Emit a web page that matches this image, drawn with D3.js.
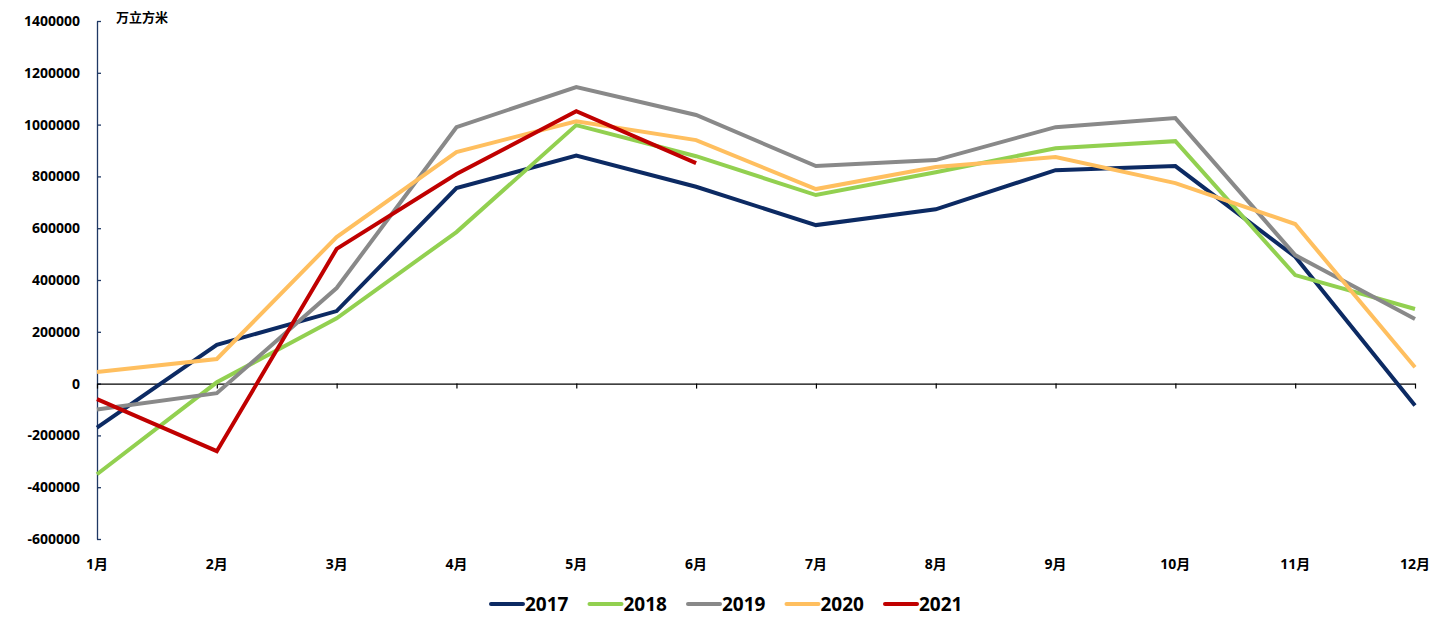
<!DOCTYPE html>
<html>
<head>
<meta charset="utf-8">
<script src="https://cdn.jsdelivr.net/npm/d3@7"></script>
<style>
	body { margin: 0; background: #fff; }
	text { font-family: "Open Sans", "Noto Sans CJK SC", sans-serif; font-weight: bold; fill: #000; }
</style>
</head>
<body>
<div id="chart"></div>
<script>
var months = ['1月','2月','3月','4月','5月','6月','7月','8月','9月','10月','11月','12月'];
var years = ['2017','2018','2019','2020','2021'];
var colors = ['#0c2a63','#92d050','#898989','#ffbf5f','#c00000'];
var yTicks = [-600000,-400000,-200000,0,200000,400000,600000,800000,1000000,1200000,1400000];

var v2017 = [-170000,150000,280000,755000,880000,760000,612000,673000,824000,840000,490000,-85000];
var v2018 = [-350000,5000,252000,585000,998000,878000,728000,816000,909000,936000,419000,288000];
var v2019 = [-100000,-37000,369000,990000,1145000,1037000,840000,863000,990000,1025000,496000,249000];
var v2020 = [45000,95000,566000,894000,1013000,940000,751000,836000,875000,774000,616000,63000];
var v2021 = [-60000,-261000,520000,809000,1052000,851000];
var series = [v2017, v2018, v2019, v2020, v2021];

var width = 1451, height = 629;
var plotLeft = 97, plotRight = 1415, plotTop = 21, plotBottom = 539;

var svg = d3.select('#chart').append('svg')
	.attr('width', width)
	.attr('height', height);

var x = d3.scalePoint().domain(months).range([plotLeft, plotRight]);
var y = d3.scaleLinear().domain([-600000, 1400000]).range([plotBottom, plotTop]);

// y axis
var yAxis = svg.append('g')
	.attr('transform', 'translate(' + plotLeft + ',0)')
	.call(d3.axisRight(y).tickValues(yTicks).tickSize(4).tickSizeOuter(0).tickFormat(''));
yAxis.selectAll('line, path').attr('stroke', '#1f3864').attr('stroke-width', 1.3);

svg.selectAll('text.ylab')
	.data(yTicks).enter()
	.append('text')
	.attr('class', 'ylab')
	.attr('x', 80)
	.attr('y', function(d){ return y(d) + 5; })
	.attr('text-anchor', 'end')
	.attr('font-size', 14)
	.text(function(d){ return d; });

// x axis at zero
var xAxis = svg.append('g')
	.attr('transform', 'translate(0,' + y(0) + ')')
	.call(d3.axisBottom(x).tickSize(5).tickSizeOuter(0).tickFormat(''));
xAxis.selectAll('line, path').attr('stroke', '#000').attr('stroke-width', 1.2);

svg.selectAll('text.xlab')
	.data(months).enter()
	.append('text')
	.attr('class', 'xlab')
	.attr('x', function(d){ return x(d); })
	.attr('y', 569)
	.attr('text-anchor', 'middle')
	.attr('font-size', 14)
	.text(function(d){ return d; });

svg.append('text')
	.attr('x', 116)
	.attr('y', 22)
	.attr('font-size', 13)
	.text('万立方米');

// lines
var line = d3.line()
	.x(function(d, i){ return x(months[i]); })
	.y(function(d){ return y(d); });

svg.selectAll('path.series')
	.data(series).enter()
	.append('path')
	.attr('class', 'series')
	.attr('fill', 'none')
	.attr('stroke', function(d, i){ return colors[i]; })
	.attr('stroke-width', 4)
	.attr('stroke-linejoin', 'miter')
	.attr('d', line);

// legend
var legend = svg.selectAll('g.legend')
	.data(years).enter()
	.append('g')
	.attr('class', 'legend')
	.attr('transform', function(d, i){ return 'translate(' + (490 + i*98.5) + ',604)'; });
legend.append('line')
	.attr('x1', 1).attr('x2', 33)
	.attr('y1', 0).attr('y2', 0)
	.attr('stroke', function(d, i){ return colors[i]; })
	.attr('stroke-width', 4)
	.attr('stroke-linecap', 'round');
legend.append('text')
	.attr('x', 35)
	.attr('y', 7)
	.attr('font-size', 19)
	.text(function(d){ return d; });
</script>
</body>
</html>
